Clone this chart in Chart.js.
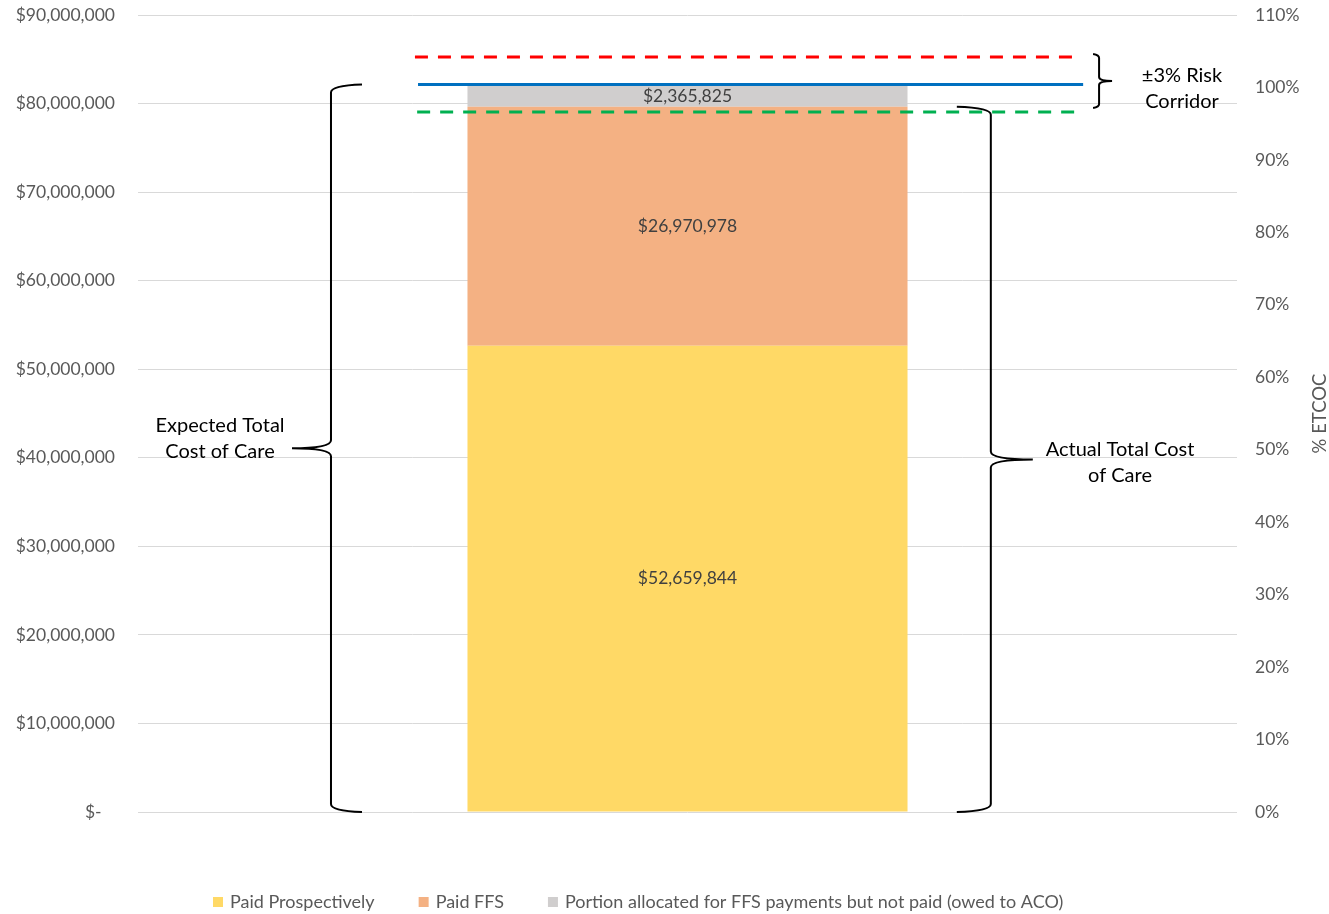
<!DOCTYPE html>
<html>
<head>
<meta charset="utf-8">
<script src="https://cdn.jsdelivr.net/npm/chart.js@4"></script>
<style>
  html, body { margin: 0; padding: 0; background: #fff; }
  #wrap { width: 1329px; height: 914px; }
</style>
</head>
<body>
<div id="wrap"><canvas id="chart" width="1329" height="914"></canvas></div>
<script>
// ---------- Data ----------
const categories = [''];
const paidProspectively = [52659844];
const paidFFS = [26970978];
const owedToACO = [2365825];
const seriesNames = ['Paid Prospectively', 'Paid FFS', 'Portion allocated for FFS payments but not paid (owed to ACO)'];

// expected total cost of care and the +/-3% risk corridor ($)
const expectedTotal = 82140000;
const corridorUpper = 85270000;
const corridorLower = 79060000;

// axis ranges
const dollarMax = 90000000;
const dollarStep = 10000000;
const pctMax = 1.1;
const pctStep = 0.1;

// ---------- Layout / style ----------
const FONT = 'Lato, "Open Sans", sans-serif';
const TICK_COLOR = '#595959';
const colors = { prosp: '#FFD966', ffs: '#F4B183', owed: '#D0CECE', blue: '#0070C0', red: '#FF0000', green: '#00B050' };
// horizontal extent of reference lines, as fraction of plot width
const spanBlue = [0.2548, 0.8600];
const spanRed = [0.2520, 0.8526];
const spanGreen = [0.2540, 0.8580];

const fmtDollar = (v) => v === 0 ? '$-   ' : '$' + Math.round(v).toLocaleString('en-US');

function hline(label, value, span, color, dash) {
  return {
    type: 'line', label, xAxisID: 'x2', yAxisID: 'y', stack: label,
    data: [{ x: span[0], y: value }, { x: span[1], y: value }],
    borderColor: color, borderWidth: 3, borderDash: dash, pointRadius: 0, fill: false, order: 0
  };
}

// brace: vertical stem at xv, hooks pointing by hookDx, tip by tipDx
function drawBrace(ctx, xv, yTop, yBot, hookDx, tipDx, r) {
  const yMid = (yTop + yBot) / 2;
  ctx.beginPath();
  ctx.moveTo(xv + hookDx, yTop);
  ctx.quadraticCurveTo(xv, yTop + 1, xv, yTop + r);
  ctx.lineTo(xv, yMid - r);
  ctx.quadraticCurveTo(xv, yMid, xv + tipDx, yMid);
  ctx.moveTo(xv + tipDx, yMid);
  ctx.quadraticCurveTo(xv, yMid, xv, yMid + r);
  ctx.lineTo(xv, yBot - r);
  ctx.quadraticCurveTo(xv, yBot - 1, xv + hookDx, yBot);
  ctx.stroke();
}

const annotations = {
  id: 'annotations',
  afterDatasetsDraw(chart) {
    const { ctx, scales } = chart;
    const y = scales.y, x2 = scales.x2;
    ctx.save();

    // segment labels
    ctx.font = '17.5px ' + FONT;
    ctx.fillStyle = '#404040';
    ctx.textAlign = 'center';
    ctx.textBaseline = 'middle';
    [0, 1, 2].forEach(i => {
      const el = chart.getDatasetMeta(i).data[0];
      const v = chart.data.datasets[i].data[0];
      ctx.fillText(fmtDollar(v), el.x, (el.y + el.base) / 2);
    });

    // braces
    ctx.strokeStyle = '#000';
    ctx.lineWidth = 2;
    const actual = paidProspectively[0] + paidFFS[0];
    drawBrace(ctx, x2.getPixelForValue(0.1756), y.getPixelForValue(expectedTotal), y.getPixelForValue(0), 31, -39, 8);
    drawBrace(ctx, x2.getPixelForValue(0.7760), y.getPixelForValue(actual), y.getPixelForValue(0), -34, 42, 8);
    drawBrace(ctx, x2.getPixelForValue(0.8745), y.getPixelForValue(85600000), y.getPixelForValue(79500000), -6, 13, 4);

    // brace labels
    ctx.font = '20px ' + FONT;
    ctx.fillStyle = '#000';
    ctx.fillText('Expected Total', 220, 426);
    ctx.fillText('Cost of Care', 220, 452);
    ctx.fillText('Actual Total Cost', 1120, 450);
    ctx.fillText('of Care', 1120, 476);
    ctx.fillText('\u00B13% Risk', 1182, 76);
    ctx.fillText('Corridor', 1182, 102);

    // right axis title
    ctx.font = '18.5px ' + FONT;
    ctx.fillStyle = TICK_COLOR;
    ctx.translate(1320, (chart.chartArea.top + chart.chartArea.bottom) / 2);
    ctx.rotate(-Math.PI / 2);
    ctx.fillText('% ETCOC', 0, 0);
    ctx.restore();

    // legend
    ctx.save();
    ctx.font = '18px ' + FONT;
    ctx.textAlign = 'left';
    ctx.textBaseline = 'middle';
    let lx = 213;
    const ly = 902;
    [0, 1, 2].forEach(i => {
      const ds = chart.data.datasets[i];
      ctx.fillStyle = ds.backgroundColor;
      ctx.fillRect(lx, ly - 5, 10, 10);
      ctx.fillStyle = TICK_COLOR;
      ctx.fillText(ds.label, lx + 17, ly);
      lx += 17 + ctx.measureText(ds.label).width + 44;
    });
    ctx.restore();
  }
};

const bar = (label, data, color) => ({
  type: 'bar', label, data, backgroundColor: color, stack: 'cost', grouped: false,
  xAxisID: 'x', yAxisID: 'y', barPercentage: 1, categoryPercentage: 0.4004, order: 1
});

const noPad = (s) => { s.paddingTop = 0; s.paddingBottom = 0; };

new Chart(document.getElementById('chart'), {
  data: {
    labels: categories,
    datasets: [
      bar(seriesNames[0], paidProspectively, colors.prosp),
      bar(seriesNames[1], paidFFS, colors.ffs),
      bar(seriesNames[2], owedToACO, colors.owed),
      hline('upper', corridorUpper, spanRed, colors.red, [13, 10]),
      hline('expected', expectedTotal, spanBlue, colors.blue, []),
      hline('lower', corridorLower, spanGreen, colors.green, [13, 10])
    ]
  },
  options: {
    responsive: false,
    animation: false,
    layout: { padding: { top: 15, left: 0, right: 0, bottom: 0 } },
    plugins: { legend: { display: false }, tooltip: { enabled: false } },
    scales: {
      x: {
        stacked: true, offset: true,
        grid: { display: false }, border: { display: false },
        ticks: { display: false },
        afterFit: (s) => { s.height = 102; }
      },
      x2: { type: 'linear', display: false, min: 0, max: 1 },
      y: {
        stacked: true, position: 'left', min: 0, max: dollarMax,
        grid: { color: '#D9D9D9', drawTicks: false, lineWidth: 1 },
        border: { display: false },
        ticks: { stepSize: dollarStep, padding: 23, color: TICK_COLOR, font: { family: FONT, size: 17.5 }, callback: fmtDollar },
        afterFit: (s) => { s.width = 138; noPad(s); }
      },
      y1: {
        position: 'right', min: 0, max: pctMax,
        grid: { display: false, drawTicks: false }, border: { display: false },
        ticks: { stepSize: pctStep, padding: 18, color: TICK_COLOR, font: { family: FONT, size: 17.5 },
          callback: (v) => Math.round(v * 100) + '%' },
        afterFit: (s) => { s.width = 92; noPad(s); }
      }
    }
  },
  plugins: [annotations]
});
</script>
</body>
</html>
